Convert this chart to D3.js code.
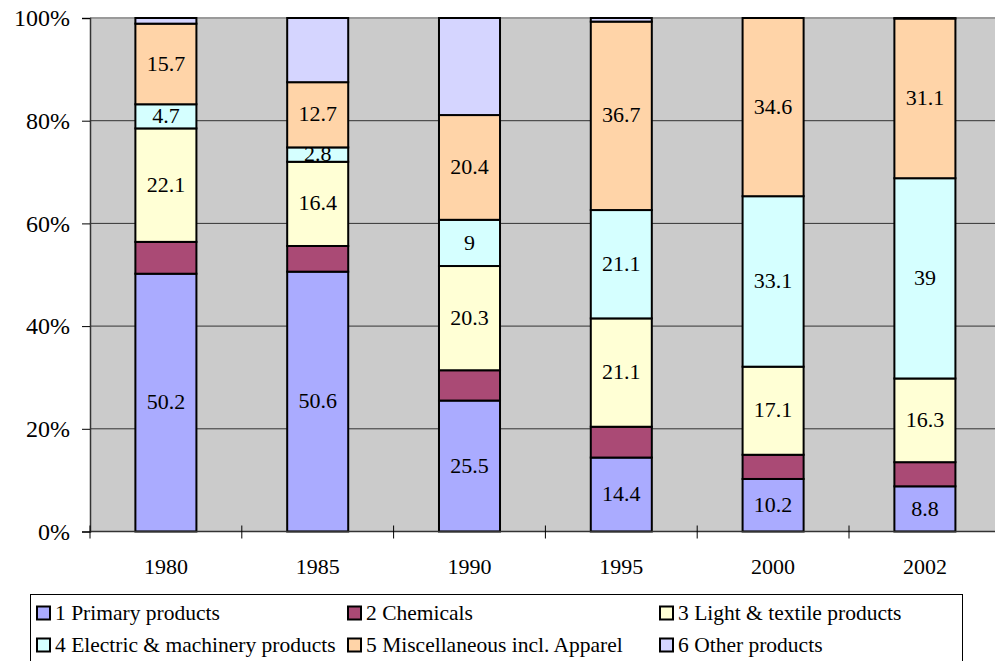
<!DOCTYPE html>
<html>
<head>
<meta charset="utf-8">
<script src="https://cdn.jsdelivr.net/npm/d3@7"></script>
</head>
<body style="margin:0;background:#fff">
<svg id="chart" width="995" height="661" style="display:block"></svg>
<script>
// Export composition by product group (% share of total)
const years = ["1980", "1985", "1990", "1995", "2000", "2002"];
const primary   = [50.2, 50.6, 25.5, 14.4, 10.2, 8.8];
const chemicals = [6.2, 5.0, 5.9, 6.0, 4.7, 4.7];
const light     = [22.1, 16.4, 20.3, 21.1, 17.1, 16.3];
const electric  = [4.7, 2.8, 9, 21.1, 33.1, 39];
const misc      = [15.7, 12.7, 20.4, 36.7, 34.6, 31.1];
const other     = [1.1, 12.5, 18.9, 0.7, 0.0, 0.1];

const seriesNames = [
  "1 Primary products",
  "2 Chemicals",
  "3 Light & textile products",
  "4 Electric & machinery products",
  "5 Miscellaneous incl. Apparel",
  "6 Other products"
];
const seriesKeys = ["primary", "chemicals", "light", "electric", "misc", "other"];
const seriesValues = [primary, chemicals, light, electric, misc, other];
const colors = ["#AAABFF", "#AA4A75", "#FFFFD5", "#D5FFFF", "#FFD4A8", "#D5D5FF"];
// series whose segment values are printed inside the bars
const labelled = new Set(["primary", "light", "electric", "misc"]);
const yTicks = [0, 0.2, 0.4, 0.6, 0.8, 1.0];

const FONT = '"Liberation Serif"';

const rows = years.map((yr, i) => {
  const r = { year: yr };
  seriesKeys.forEach((k, j) => { r[k] = seriesValues[j][i]; });
  return r;
});

// each year is normalised to 100%
const stack = d3.stack().keys(seriesKeys).offset(d3.stackOffsetExpand);
const layers = stack(rows);

const svg = d3.select("#chart");
const plot = { left: 90, top: 18, bottom: 531.5, step: 151.8 };
const plotRight = plot.left + plot.step * years.length;

const x = d3.scaleBand()
  .domain(years)
  .range([plot.left, plotRight])
  .paddingInner(0.598)
  .paddingOuter(0.299);
const y = d3.scaleLinear().domain([0, 1]).range([plot.bottom, plot.top]);

// plot background
svg.append("rect")
  .attr("x", plot.left).attr("y", plot.top)
  .attr("width", plotRight - plot.left).attr("height", plot.bottom - plot.top)
  .attr("fill", "#CBCBCB");

// horizontal gridlines
svg.append("g")
  .selectAll("line")
  .data(yTicks.filter(t => t > 0 && t < 1))
  .join("line")
  .attr("x1", plot.left).attr("x2", plotRight)
  .attr("y1", d => y(d)).attr("y2", d => y(d))
  .attr("stroke", "#333").attr("stroke-width", 1);

// top border of the plot area
svg.append("line")
  .attr("x1", plot.left).attr("x2", plotRight)
  .attr("y1", y(1)).attr("y2", y(1))
  .attr("stroke", "#9a9a9a").attr("stroke-width", 2);

// stacked bars
const gBars = svg.append("g");
layers.forEach((layer, j) => {
  gBars.append("g")
    .attr("fill", colors[j])
    .selectAll("rect")
    .data(layer.filter(d => d[1] - d[0] > 0))
    .join("rect")
    .attr("x", d => x(d.data.year))
    .attr("width", x.bandwidth())
    .attr("y", d => y(d[1]))
    .attr("height", d => y(d[0]) - y(d[1]))
    .attr("stroke", "#000")
    .attr("stroke-width", 2);
});

// segment value labels
const gLabels = svg.append("g")
  .attr("text-anchor", "middle")
  .attr("fill", "#000");
layers.forEach((layer, j) => {
  const key = seriesKeys[j];
  if (!labelled.has(key)) return;
  gLabels.selectAll(null)
    .data(layer)
    .join("text")
    .style("font-family", FONT)
    .style("font-size", "22px")
    .attr("x", d => x(d.data.year) + x.bandwidth() / 2)
    .attr("y", d => (y(d[0]) + y(d[1])) / 2)
    .attr("dy", "0.3em")
    .text(d => d3.format("")(d.data[key]));
});

// y axis
const yAxis = svg.append("g")
  .attr("transform", `translate(${plot.left},0)`)
  .call(d3.axisLeft(y).tickValues(yTicks).tickFormat(d3.format(".0%")).tickSize(8).tickPadding(12));
yAxis.select(".domain").attr("stroke", "#333").attr("stroke-width", 1.5);
yAxis.selectAll(".tick line").attr("stroke", "#000");
yAxis.selectAll(".tick text")
  .attr("fill", "#000")
  .style("font-family", FONT)
  .style("font-size", "24px");

// x axis line with cross tick marks at category boundaries
svg.append("line")
  .attr("x1", plot.left).attr("x2", plotRight)
  .attr("y1", plot.bottom).attr("y2", plot.bottom)
  .attr("stroke", "#333").attr("stroke-width", 1.5);
const boundaries = d3.range(years.length + 1).map(i => plot.left + i * x.step());
svg.append("g")
  .selectAll("line")
  .data(boundaries)
  .join("line")
  .attr("x1", d => d).attr("x2", d => d)
  .attr("y1", plot.bottom - 6).attr("y2", plot.bottom + 7)
  .attr("stroke", "#000").attr("stroke-width", 1);

svg.append("g")
  .attr("text-anchor", "middle")
  .selectAll("text")
  .data(years)
  .join("text")
  .style("font-family", FONT)
  .style("font-size", "22px")
  .attr("x", d => x(d) + x.bandwidth() / 2)
  .attr("y", 574)
  .text(d => d);

// legend
const legend = svg.append("g");
legend.append("rect")
  .attr("x", 30.5).attr("y", 594.5)
  .attr("width", 932).attr("height", 90)
  .attr("fill", "#fff").attr("stroke", "#000").attr("stroke-width", 1);

const colX = [37, 348, 660];
const rowY = [606.5, 638.5];
const items = legend.selectAll("g.item")
  .data(seriesNames)
  .join("g")
  .attr("class", "item")
  .attr("transform", (d, i) => `translate(${colX[i % 3]},${rowY[Math.floor(i / 3)]})`);
items.append("rect")
  .attr("width", 13).attr("height", 13)
  .attr("fill", (d, i) => colors[i])
  .attr("stroke", "#000").attr("stroke-width", 2);
items.append("text")
  .attr("x", 18).attr("y", 13)
  .style("font-family", FONT)
  .style("font-size", "21.5px")
  .text(d => d);
</script>
</body>
</html>
